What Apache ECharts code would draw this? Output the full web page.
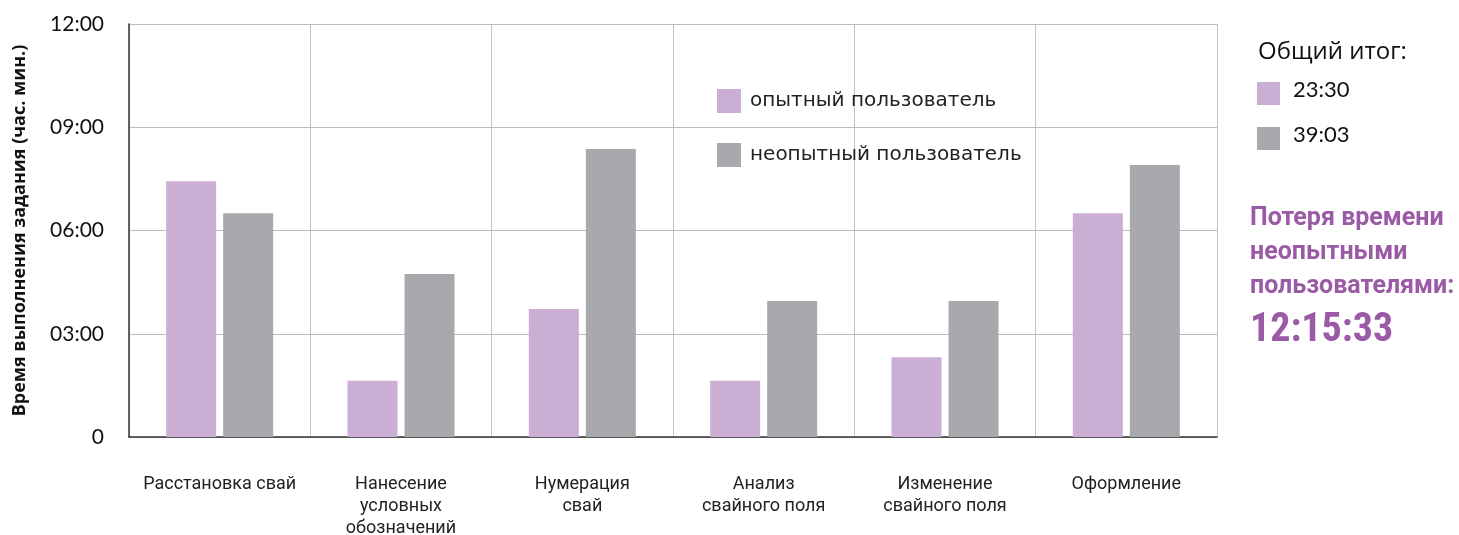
<!DOCTYPE html>
<html>
<head>
<meta charset="utf-8">
<script src="https://cdn.jsdelivr.net/npm/echarts@6/dist/echarts.min.js"></script>
<style>
html,body{margin:0;padding:0;background:#fff;}
#c{width:1459px;height:535px;}
</style>
</head>
<body>
<div id="c"></div>
<script>
// Data (minutes)
const categories = ['Расстановка свай', 'Нанесение\nусловных\nобозначений', 'Нумерация\nсвай', 'Анализ\nсвайного поля', 'Изменение\nсвайного поля', 'Оформление'];
const seriesNames = ['опытный пользователь', 'неопытный пользователь'];
const experienced = [446, 98, 223, 98, 139, 390];
const novice = [390, 284, 502, 237, 237, 474];
const yMin = 0, yMax = 720, yInterval = 180;
const totalsTitle = 'Общий итог:';
const totals = ['23:30', '39:03'];
const lossTitle = ['Потеря времени', 'неопытными', 'пользователями:'];
const lossValue = '12:15:33';
const yAxisName = 'Время выполнения задания (час. мин.)';

const PURPLE = '#cbaed3', GRAY = '#a8a9ad', ACCENT = '#9a5aa5';
function fmt(v){
  if (v === 0) return '0';
  const h = Math.floor(v/60), m = v%60;
  return String(h).padStart(2,'0') + ':' + String(m).padStart(2,'0');
}
const chart = echarts.init(document.getElementById('c'));
const narrow = "'Roboto Condensed', 'Liberation Sans Narrow', Roboto, sans-serif";
chart.setOption({
  animation: false,
  grid: {left: 129, right: 242, top: 24, bottom: 98, containLabel: false, outerBoundsMode: 'none'},
  legend: {
    orient: 'vertical', left: 717, top: 89, padding: 0, itemWidth: 24, itemHeight: 24, itemGap: 30,
    icon: 'rect', data: seriesNames,
    textStyle: {fontFamily: "'DejaVu Sans', sans-serif", fontSize: 20, color: '#222', padding: [0,0,0,4]}
  },
  xAxis: {
    type: 'category', data: categories,
    axisLine: {lineStyle: {color: '#333', width: 1.5}},
    axisTick: {show: false},
    splitLine: {show: true, lineStyle: {color: '#c4c4c4', width: 1}},
    axisLabel: {margin: 36, fontFamily: "Roboto, sans-serif", fontSize: 18, color: '#222', lineHeight: 22, interval: 0}
  },
  yAxis: {
    type: 'value', min: yMin, max: yMax, interval: yInterval,
    name: yAxisName, nameLocation: 'middle', nameGap: 100, nameRotate: 90,
    nameTextStyle: {fontFamily: "'Open Sans', sans-serif", fontSize: 18, fontWeight: 'bold', color: '#111'},
    axisLine: {show: true, lineStyle: {color: '#333', width: 1.5}},
    axisTick: {show: false},
    splitLine: {lineStyle: {color: '#bdbdbd', width: 1}},
    axisLabel: {formatter: fmt, margin: 25, fontFamily: "'Lato', 'Open Sans', sans-serif", fontSize: 21, color: '#111'}
  },
  series: [
    {name: seriesNames[0], type: 'bar', data: experienced, barWidth: 50, barGap: '14%', itemStyle: {color: PURPLE}},
    {name: seriesNames[1], type: 'bar', data: novice, barWidth: 50, barGap: '14%', itemStyle: {color: GRAY}}
  ],
  graphic: [
    {type: 'text', left: 1258, top: 40, style: {text: totalsTitle, font: "24px 'Open Sans', sans-serif", fill: '#111'}},
    {type: 'rect', left: 1257, top: 82, shape: {width: 23, height: 23}, style: {fill: PURPLE}},
    {type: 'text', left: 1293, top: 79, style: {text: totals[0], font: "22px 'Lato', 'Open Sans', sans-serif", fill: '#111'}},
    {type: 'rect', left: 1257, top: 127, shape: {width: 23, height: 23}, style: {fill: GRAY}},
    {type: 'text', left: 1293, top: 124, style: {text: totals[1], font: "22px 'Lato', 'Open Sans', sans-serif", fill: '#111'}},
    {type: 'text', left: 1250, top: 202, style: {text: lossTitle.join('\n'), font: "bold 25px Roboto, sans-serif", fill: ACCENT, lineHeight: 34}},
    {type: 'text', left: 1250, top: 311, style: {text: lossValue, font: "bold 40px " + narrow, fill: ACCENT}}
  ]
});
</script>
</body>
</html>
